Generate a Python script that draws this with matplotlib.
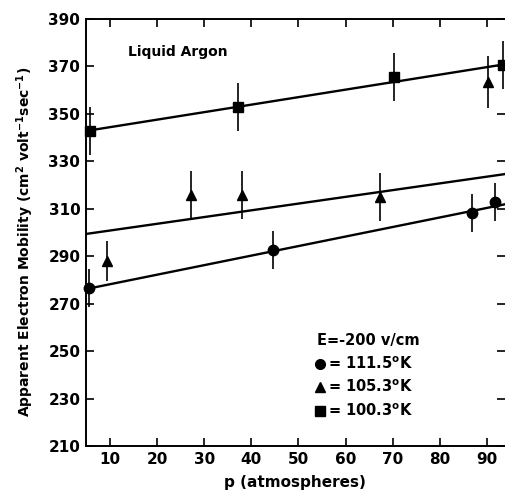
import numpy as np
import matplotlib.pyplot as plt

# data
p_circ = [5.5, 44.6, 86.8, 91.7]
mu_circ = [276.6, 292.6, 308.2, 312.8]
err_circ = [8, 8, 8, 8]

p_tri = [9.4, 27.2, 38.0, 67.3, 90.2]
mu_tri = [288.0, 315.8, 315.8, 315.0, 363.4]
err_tri = [8.5, 10, 10, 10, 11]

p_sq = [5.7, 37.2, 70.3, 93.4]
mu_sq = [342.8, 352.9, 365.5, 370.6]
err_sq = [10, 10, 10, 10]

# fitted lines (end points)
fit_circ_p = [5.5, 94]
fit_circ_mu = [276.4, 312.0]
fit_tri_p = [4.9, 94]
fit_tri_mu = [299.4, 324.7]
fit_sq_p = [4.9, 94]
fit_sq_mu = [342.8, 371.0]

xticks = [10, 20, 30, 40, 50, 60, 70, 80, 90]
yticks = [210, 230, 250, 270, 290, 310, 330, 350, 370, 390]

plt.rcParams['font.family'] = 'DejaVu Sans'
plt.rcParams['font.weight'] = 'bold'

fig = plt.figure(figsize=(5.05, 4.94), dpi=100)
ax = fig.add_axes([0.170, 0.097, 0.830, 0.8645])

for p, mu, e, m in [(p_circ, mu_circ, err_circ, 'o'),
                    (p_tri, mu_tri, err_tri, '^'),
                    (p_sq, mu_sq, err_sq, 's')]:
    ax.errorbar(p, mu, yerr=e, fmt=m, color='black', ms=7.5,
                elinewidth=1.2, capsize=0, clip_on=False, zorder=3)

for fp, fm in [(fit_circ_p, fit_circ_mu), (fit_tri_p, fit_tri_mu), (fit_sq_p, fit_sq_mu)]:
    ax.plot(fp, fm, color='black', lw=1.7)

ax.set_xlim(4.9, 93.8)
ax.set_ylim(210, 390)
ax.set_xticks(xticks)
ax.set_yticks(yticks)
ax.tick_params(direction='in', length=6, width=1.2, labelsize=11,
               top=True, right=True, pad=4)
for lab in ax.get_xticklabels() + ax.get_yticklabels():
    lab.set_fontweight('bold')
for s in ['left', 'bottom', 'top']:
    ax.spines[s].set_linewidth(1.4)
ax.spines['right'].set_visible(False)

ax.set_xlabel('p (atmospheres)', fontsize=11, fontweight='bold', labelpad=6)
ax.set_ylabel(r'Apparent Electron Mobility (cm$^{\mathbf{2}}$ volt$^{\mathbf{-1}}$sec$^{\mathbf{-1}}$)',
              fontsize=10, fontweight='bold')
ax.yaxis.set_label_coords(-0.118, 0.478)

ax.text(0.10, 0.923, 'Liquid Argon', transform=ax.transAxes,
        fontsize=10, fontweight='bold', va='center')

# legend block
ax.text(0.552, 0.248, 'E=-200 v/cm', transform=ax.transAxes, fontsize=10.5,
        fontweight='bold', va='center')
leg_mark = ['o', '^', 's']
leg_text = [r'= 111.5$^{\mathbf{o}}$K', r'= 105.3$^{\mathbf{o}}$K', r'= 100.3$^{\mathbf{o}}$K']
leg_y = [0.192, 0.138, 0.082]
for m, t, y in zip(leg_mark, leg_text, leg_y):
    ax.plot([0.558], [y], marker=m, color='black', ms=7, transform=ax.transAxes)
    ax.text(0.578, y, t, transform=ax.transAxes, fontsize=10.5,
            fontweight='bold', va='center')

fig.savefig('out.png', dpi=100)
